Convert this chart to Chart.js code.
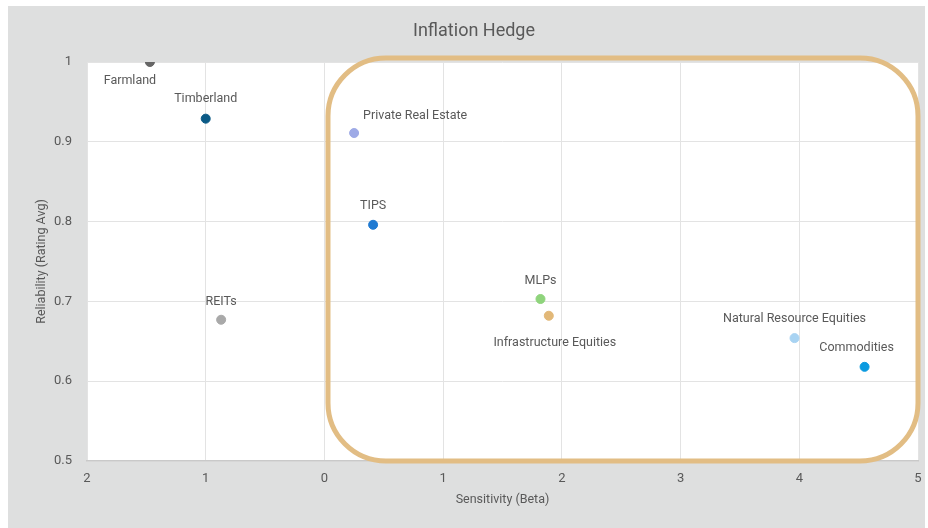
<!DOCTYPE html>
<html>
<head>
<meta charset="utf-8">
<script src="https://cdn.jsdelivr.net/npm/chart.js@4"></script>
<style>
  html, body { margin: 0; padding: 0; background: #fff; }
  #wrap { width: 928px; height: 528px; }
</style>
</head>
<body>
<div id="wrap"><canvas id="hedgeChart" width="928" height="528"></canvas></div>
<script>
// asset classes and their readings (sensitivity = beta, reliability = rating avg)
const assets = ['Farmland', 'Timberland', 'REITs', 'Private Real Estate', 'TIPS', 'MLPs',
    'Infrastructure Equities', 'Natural Resource Equities', 'Commodities'];
const sensitivity = [-1.47, -1.0, -0.87, 0.25, 0.41, 1.82, 1.89, 3.96, 4.55];
const reliability = [1.0, 0.929, 0.677, 0.911, 0.796, 0.703, 0.682, 0.654, 0.618];

const xTicks = [-2, -1, 0, 1, 2, 3, 4, 5];
const yTicks = [0.5, 0.6, 0.7, 0.8, 0.9, 1];

// highlighted region (data units)
const focusX = [0.03, 5.0];
const focusY = [0.5, 1.005];

const pointColors = ['#666666', '#0b5a86', '#a9a9a9', '#9eaae6', '#1f7ad2',
    '#8fd47c', '#e2b878', '#a8d3f2', '#0a9ae0'];
// label offset from each point, px
const labelOffsets = [[-20, 19], [0, -20], [0, -18], [61, -17], [0, -19],
    [0, -18], [6, 27], [0, -19], [-8, -19]];

const TEXT = '#595959';
const FONT = 'Roboto, "Liberation Sans", sans-serif';

const backdrop = {
    id: 'backdrop',
    beforeDraw(chart) {
        const { ctx, chartArea: a } = chart;
        ctx.save();
        ctx.fillStyle = '#ffffff';
        ctx.fillRect(0, 0, chart.width, chart.height);
        ctx.fillStyle = '#dedfdf';
        ctx.fillRect(8, 6, 917, 522);
        ctx.fillStyle = '#ffffff';
        ctx.fillRect(a.left, a.top, a.right - a.left, a.bottom - a.top);
        ctx.fillStyle = TEXT;
        ctx.font = '18px ' + FONT;
        ctx.textAlign = 'center';
        ctx.textBaseline = 'middle';
        ctx.fillText('Inflation Hedge', 474, 31);
        ctx.restore();
    }
};

const focusFrame = {
    id: 'focusFrame',
    afterDatasetsDraw(chart) {
        const { ctx, scales: { x, y } } = chart;
        const l = x.getPixelForValue(focusX[0]), r = x.getPixelForValue(focusX[1]);
        const t = y.getPixelForValue(focusY[1]), b = y.getPixelForValue(focusY[0]);
        ctx.save();
        ctx.strokeStyle = '#e2bd84';
        ctx.lineWidth = 5;
        ctx.beginPath();
        ctx.roundRect(l, t, r - l, b - t, 58);
        ctx.stroke();
        ctx.restore();
    }
};

const pointLabels = {
    id: 'pointLabels',
    afterDatasetsDraw(chart) {
        const { ctx } = chart;
        const meta = chart.getDatasetMeta(0);
        ctx.save();
        ctx.fillStyle = TEXT;
        ctx.font = '12.5px ' + FONT;
        ctx.textAlign = 'center';
        ctx.textBaseline = 'middle';
        meta.data.forEach((pt, i) => {
            const [dx, dy] = labelOffsets[i];
            ctx.fillText(assets[i], pt.x + dx, pt.y + dy);
        });
        ctx.restore();
    }
};

new Chart(document.getElementById('hedgeChart'), {
    type: 'scatter',
    data: {
        datasets: [{
            label: 'Inflation Hedge',
            data: sensitivity.map((s, i) => ({ x: s, y: reliability[i] })),
            pointBackgroundColor: pointColors,
            pointBorderColor: pointColors,
            pointRadius: 4.5,
            pointHoverRadius: 4.5
        }]
    },
    options: {
        responsive: false,
        animation: false,
        layout: { padding: { left: 8, right: 10, top: 62, bottom: 0 } },
        plugins: {
            legend: { display: false },
            tooltip: { enabled: false }
        },
        scales: {
            x: {
                type: 'linear',
                min: xTicks[0],
                max: xTicks[xTicks.length - 1],
                afterBuildTicks: s => { s.ticks = xTicks.map(v => ({ value: v })); },
                afterFit: s => { s.height = 67; s.paddingRight = 0; s.paddingLeft = 0; },
                grid: { color: '#e3e3e3', drawTicks: false },
                border: { color: '#c9c9c9', width: 1.5 },
                ticks: {
                    padding: 10,
                    color: TEXT,
                    font: { family: FONT, size: 13 },
                    callback: v => Math.abs(v)
                },
                title: {
                    display: true,
                    text: 'Sensitivity (Beta)',
                    color: TEXT,
                    font: { family: FONT, size: 12.5 },
                    padding: { top: 4, bottom: 21 }
                }
            },
            y: {
                min: yTicks[0],
                max: yTicks[yTicks.length - 1],
                afterBuildTicks: s => { s.ticks = yTicks.map(v => ({ value: v })); },
                afterFit: s => { s.width = 79; },
                grid: { color: '#e3e3e3', drawTicks: false },
                border: { display: false },
                ticks: {
                    padding: 15,
                    color: TEXT,
                    font: { family: FONT, size: 13 },
                    callback: v => String(v)
                },
                title: {
                    display: true,
                    text: 'Reliability (Rating Avg)',
                    color: TEXT,
                    font: { family: FONT, size: 12.5 },
                    padding: { top: 26, bottom: 0 }
                }
            }
        }
    },
    plugins: [backdrop, focusFrame, pointLabels]
});
</script>
</body>
</html>
